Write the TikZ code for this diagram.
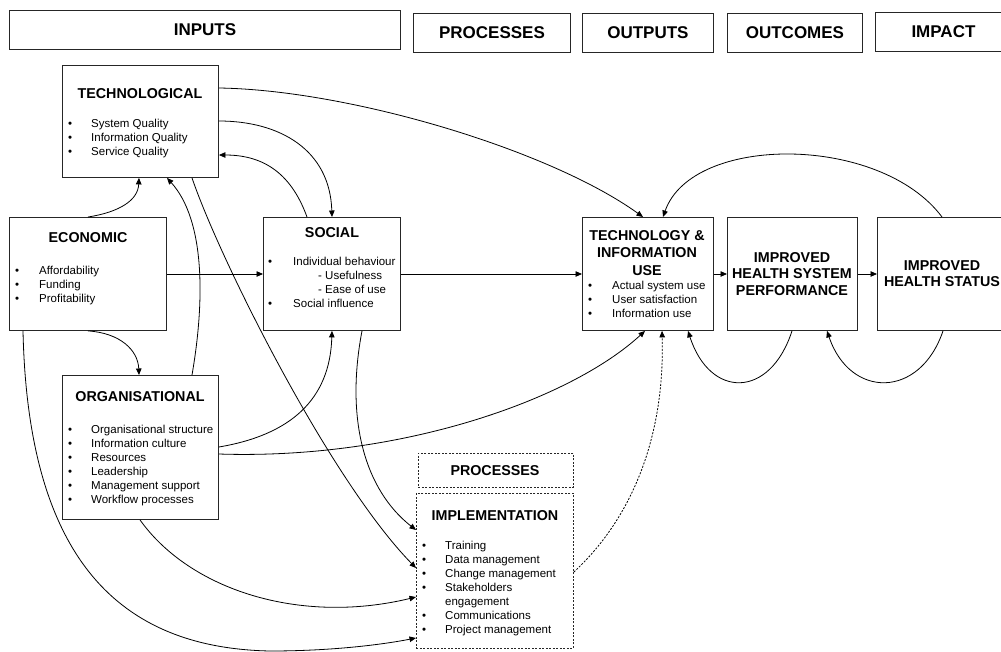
\documentclass[tikz,border=0pt]{standalone}
\usepackage{fontspec}
\setmainfont{Liberation Sans}
\usetikzlibrary{arrows.meta,calc}
\tikzset{
  box/.style={draw=black!85, line width=0.9pt, inner sep=0pt, anchor=north west},
  dbox/.style={box, dash pattern=on 2pt off 1.5pt},
  hdr/.style={font=\fontsize{17}{20}\selectfont\bfseries, inner sep=0pt},
  ttl/.style={font=\fontsize{14.3}{17}\selectfont\bfseries, inner sep=0pt, anchor=base},
  txt/.style={font=\fontsize{11.5}{14}\selectfont, inner sep=0pt, anchor=base west},
  bul/.style={font=\fontsize{11.5}{14}\selectfont, inner sep=0pt, anchor=base west},
  con/.style={line width=0.8pt, draw=black},
  arr/.style={con, -{Triangle[length=6.5pt,width=5.5pt]}},
  darr/.style={arr, dash pattern=on 2pt off 1.5pt}
}
\begin{document}
\begin{tikzpicture}[x=1pt,y=-1pt]
\useasboundingbox (0,0) rectangle (1001,651);
\fill[white] (0,0) rectangle (1001,651);
\clip (0,0) rectangle (1001,651);

% header boxes
\node[box, minimum width=391pt, minimum height=39pt] (hin) at (9,10) {};
\node[hdr] (hint) at (hin.center) {INPUTS};
\node[box, minimum width=157pt, minimum height=39pt] (hpr) at (413,13) {};
\node[hdr] (hprt) at (hpr.center) {PROCESSES};
\node[box, minimum width=131pt, minimum height=39pt] (hou) at (582,13) {};
\node[hdr] (hout) at (hou.center) {OUTPUTS};
\node[box, minimum width=135pt, minimum height=39pt] (hoc) at (727,13) {};
\node[hdr] (hoct) at (hoc.center) {OUTCOMES};
\node[box, minimum width=136pt, minimum height=39pt] (him) at (875,12) {};
\node[hdr] (himt) at (him.center) {IMPACT};

% main boxes
\node[box, minimum width=156pt, minimum height=112pt] (tech) at (62,65) {};
\node[box, minimum width=157pt, minimum height=113pt] (econ) at (9,217) {};
\node[box, minimum width=137pt, minimum height=113pt] (social) at (263,217) {};
\node[box, minimum width=156pt, minimum height=144pt] (org) at (62,375) {};
\node[box, minimum width=131pt, minimum height=113pt] (tiu) at (582,217) {};
\node[box, minimum width=130pt, minimum height=113pt] (ihsp) at (727,217) {};
\node[box, minimum width=134pt, minimum height=113pt] (ihs) at (877,217) {};
\node[dbox, minimum width=155pt, minimum height=34pt] (proc) at (418,453) {};
\node[dbox, minimum width=157pt, minimum height=155pt] (impl) at (416,493) {};

% titles
\node[ttl] (techt) at (140,98) {TECHNOLOGICAL};
\node[ttl] (econt) at (88,242) {ECONOMIC};
\node[ttl] (socialt) at (332,237) {SOCIAL};
\node[ttl] (orgt) at (140,401) {ORGANISATIONAL};
\node[ttl] (tiut1) at (647,240) {TECHNOLOGY \&};
\node[ttl] (tiut2) at (647,257) {INFORMATION};
\node[ttl] (tiut3) at (647,275) {USE};
\node[ttl] (ihspt1) at (792,262) {IMPROVED};
\node[ttl] (ihspt2) at (792,278) {HEALTH SYSTEM};
\node[ttl] (ihspt3) at (792,295) {PERFORMANCE};
\node[ttl] (ihst1) at (942,270) {IMPROVED};
\node[ttl] (ihst2) at (942,286) {HEALTH STATUS};
\node[ttl] (proct) at (495,475) {PROCESSES};
\node[ttl] (implt) at (495,520) {IMPLEMENTATION};

% lists
\foreach \t [count=\i] in {System Quality, Information Quality, Service Quality}
  {\node[bul] (tb\i) at (68,113+14*\i) {•}; \node[txt] (tt\i) at (91,113+14*\i) {\t};}
\foreach \t [count=\i] in {Affordability, Funding, Profitability}
  {\node[bul] (eb\i) at (15,260+14*\i) {•}; \node[txt] (et\i) at (39,260+14*\i) {\t};}
\node[bul] (sb1) at (268,265) {•}; \node[txt] (st1) at (293,265) {Individual behaviour};
\node[txt] (st2) at (318,279) {- Usefulness};
\node[txt] (st3) at (318,293) {- Ease of use};
\node[bul] (sb4) at (268,307) {•}; \node[txt] (st4) at (293,307) {Social influence};
\foreach \t [count=\i] in {Organisational structure, Information culture, Resources, Leadership, Management support, Workflow processes}
  {\node[bul] (ob\i) at (68,419+14*\i) {•}; \node[txt] (ot\i) at (91,419+14*\i) {\t};}
\foreach \t [count=\i] in {Actual system use, User satisfaction, Information use}
  {\node[bul] (ub\i) at (588,275+14*\i) {•}; \node[txt] (ut\i) at (612,275+14*\i) {\t};}
\foreach \t/\b [count=\i] in {Training/1, Data management/1, Change management/1, Stakeholders/1, engagement/0, Communications/1, Project management/1}
  {\ifnum\b=1 \node[bul] (ib\i) at (422,535+14*\i) {•};\fi \node[txt] (it\i) at (445,535+14*\i) {\t};}

% connectors
\draw[arr] (tech.east |- 0,88) .. controls (350,90) and (550,150) .. (tiu.north -| 643,0);
\draw[arr] (tech.east |- 0,121) .. controls (280,121) and (330,150) .. (social.north -| 332,0);
\draw[arr] (social.north -| 307,0) .. controls (290,170) and (260,155) .. (tech.east |- 0,155);
\draw[arr] (econ.north -| 88,0) .. controls (120,212) and (138,200) .. (tech.south -| 139,0);
\draw[arr] (org.north -| 192,0) .. controls (205,300) and (205,220) .. (tech.south -| 167,0);
\draw[arr] (tech.south -| 192,0) .. controls (220,260) and (330,480) .. (impl.west |- 0,568);
\draw[arr] (econ.south -| 88,0) .. controls (120,333) and (138,350) .. (org.north -| 139,0);
\draw[arr] (econ.east |- 0,274) -- (social.west |- 0,274);
\draw[arr] (social.east |- 0,274) -- (tiu.west |- 0,274);
\draw[arr] (tiu.east |- 0,274) -- (ihsp.west |- 0,274);
\draw[arr] (ihsp.east |- 0,274) -- (ihs.west |- 0,274);
\draw[arr] (org.east |- 0,447) .. controls (290,435) and (330,400) .. (social.south -| 332,0);
\draw[arr] (org.east |- 0,454) .. controls (400,460) and (570,400) .. (tiu.south -| 645,0);
\draw[arr] (social.south -| 362,0) .. controls (345,420) and (365,490) .. (impl.west |- 0,530);
\draw[arr] (org.south -| 140,0) .. controls (190,590) and (300,625) .. (impl.west |- 0,597);
\draw[arr] (econ.south -| 23,0) .. controls (28,560) and (120,648) .. (270,651) .. controls (330,651) and (380,645) .. (impl.west |- 0,638);
\draw[darr] (impl.east |- 0,572) .. controls (630,520) and (665,440) .. (tiu.south -| 662,0);
\draw[arr] (ihs.north -| 942,0) .. controls (880,134) and (692,134) .. (tiu.north -| 663,0);
\draw[arr] (ihsp.south -| 792,0) .. controls (770,399) and (710,399) .. (tiu.south -| 688,0);
\draw[arr] (ihs.south -| 943,0) .. controls (920,399) and (850,399) .. (ihsp.south -| 827,0);
\end{tikzpicture}
\end{document}
